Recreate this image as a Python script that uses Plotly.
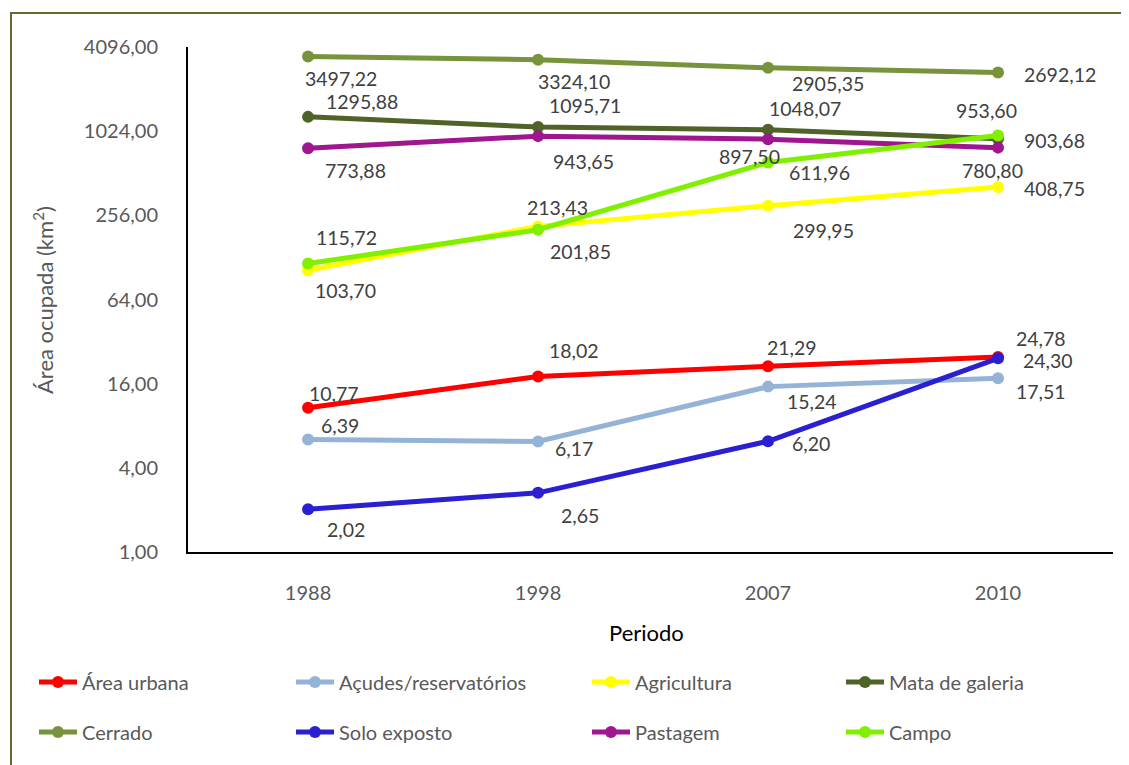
import math
import plotly.graph_objects as go

periods = ["1988", "1998", "2007", "2010"]

area_urbana = [10.77, 18.02, 21.29, 24.78]
acudes = [6.39, 6.17, 15.24, 17.51]
agricultura = [103.70, 213.43, 299.95, 408.75]
mata_galeria = [1295.88, 1095.71, 1048.07, 903.68]
cerrado = [3497.22, 3324.10, 2905.35, 2692.12]
solo_exposto = [2.02, 2.65, 6.20, 24.30]
pastagem = [773.88, 943.65, 897.50, 780.80]
campo = [115.72, 201.85, 611.96, 953.60]

y_ticks = [1, 4, 16, 64, 256, 1024, 4096]
y_tick_labels = ["1,00", "4,00", "16,00", "64,00", "256,00", "1024,00", "4096,00"]

# name, values, colour, legend (x px of marker, y px), label offsets (dx, dy px; dy positive = down)
series = [
    ("Área urbana", area_urbana, "#FF0000", (56, 682), [(26, -14), (36, -26), (24, -19), (43, -19)]),
    ("Açudes/reservatórios", acudes, "#95B3D7", (313, 682), [(32, -14), (36, 7), (44, 15), (43, 13)]),
    ("Agricultura", agricultura, "#FFFF00", (609, 682), [(37, 20), (19, -19), (55, 25), (56, 2)]),
    ("Mata de galeria", mata_galeria, "#4F6228", (863, 682), [(54, -15), (47, -22), (37, -21), (56, 2)]),
    ("Cerrado", cerrado, "#77933C", (56, 732), [(33, 22), (36, 22), (60, 16), (62, 2)]),
    ("Solo exposto", solo_exposto, "#2A20D2", (313, 732), [(38, 20), (42, 23), (43, 2), (50, 2)]),
    ("Pastagem", pastagem, "#A0168F", (609, 732), [(47, 22), (45, 25), (-19, 17), (-6, 23)]),
    ("Campo", campo, "#80F000", (863, 732), [(38, -26), (42, 22), (51, 10), (-12, -25)]),
]

FONT = "Lato, 'Open Sans', sans-serif"
TXT = "#404040"
GREY = "#595959"
FS = 20
FS_LBL = 19.5

W, H = 1129, 765
OFF = 8  # page body margin
L, R, T, B = 188, 1113, 47, 552  # target screen pixels of plot area
def px(xp):
    return (xp - L) / (R - L)
def py(yp):
    return (B - yp) / (B - T)

fig = go.Figure()
annotations = []
legends = {}
for i, (name, vals, col, (lx, ly), offs) in enumerate(series):
    leg = "legend" if i == 0 else f"legend{i + 1}"
    fig.add_trace(go.Scatter(
        x=periods, y=vals, name=name, mode="lines+markers",
        line=dict(color=col, width=5), marker=dict(color=col, size=12),
        legend=leg, hoverinfo="skip",
    ))
    legends[leg] = dict(x=px(lx - 22), y=py(ly), xanchor="left", yanchor="middle",
                        itemwidth=38,
                        font=dict(family=FONT, size=FS, color=GREY),
                        bgcolor="rgba(0,0,0,0)")
    for k, (v, (dx, dy)) in enumerate(zip(vals, offs)):
        annotations.append(dict(
            x=k, y=math.log10(v), xref="x", yref="y",
            text=f"{v:.2f}".replace(".", ","), showarrow=False,
            xshift=dx, yshift=-dy, font=dict(family=FONT, size=FS_LBL, color=TXT),
            xanchor="center", yanchor="middle",
        ))

annotations.append(dict(text="Periodo", x=px(646), y=py(632),
                        xref="paper", yref="paper", showarrow=False,
                        font=dict(family=FONT, size=22, color="#000000"),
                        xanchor="center", yanchor="middle"))
annotations.append(dict(text="Área ocupada (km<sup>2</sup>)", x=px(43), y=py(300),
                        xref="paper", yref="paper", showarrow=False, textangle=-90,
                        font=dict(family=FONT, size=22, color=GREY),
                        xanchor="center", yanchor="middle"))

shapes = [dict(type="rect", xref="paper", yref="paper",
               x0=px(11), y0=py(790), x1=px(1150), y1=py(13),
               line=dict(color="#5E7030", width=2), fillcolor="rgba(0,0,0,0)", layer="below")]

fig.update_layout(
    width=W, height=H,
    margin=dict(l=L - OFF, r=W - (R - OFF), t=T - OFF, b=H - (B - OFF)),
    paper_bgcolor="white", plot_bgcolor="white",
    font=dict(family=FONT, size=FS, color=TXT),
    showlegend=True,
    annotations=annotations,
    shapes=shapes,
    xaxis=dict(type="category", range=[-0.522, 3.5], showgrid=False, zeroline=False,
               showline=True, linecolor="#000000", linewidth=2, ticks="",
               ticklabelstandoff=22, tickfont=dict(family=FONT, size=FS, color=GREY)),
    yaxis=dict(type="log", range=[0, math.log10(4096)], showgrid=False, zeroline=False,
               showline=True, linecolor="#000000", linewidth=2, ticks="",
               tickvals=y_ticks, ticktext=y_tick_labels, ticklabelstandoff=24,
               tickfont=dict(family=FONT, size=FS, color=GREY)),
    **legends,
)

fig.write_html("out.html")
